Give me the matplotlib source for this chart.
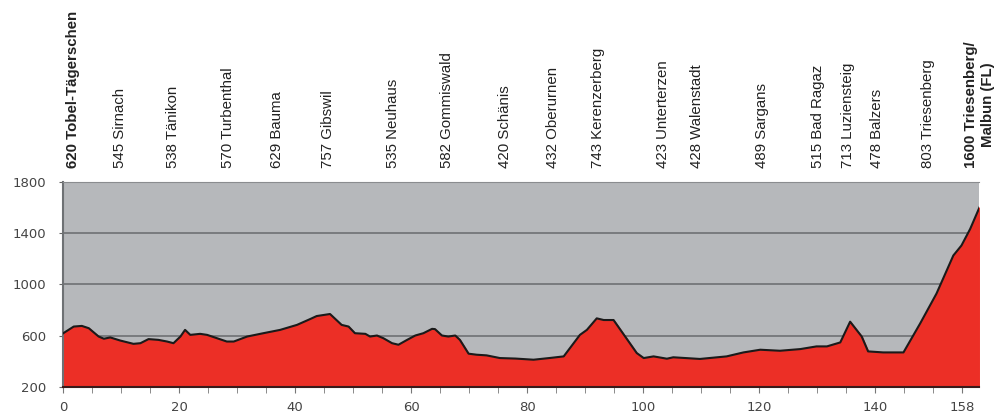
import numpy as np
import matplotlib.pyplot as plt
import matplotlib.transforms as mtransforms

# profile: distance (km) and elevation (m)
km = [0, 1.8, 3.2, 4.4, 6.1, 7.0, 8.1, 9.8, 12.1, 13.3, 14.7, 16.4, 17.9, 19.0,
      20.2, 21.0, 21.9, 23.6, 24.8, 26.5, 28.2, 29.4, 31.7, 34.5, 37.4, 40.3,
      42.6, 43.7, 46.0, 48.0, 49.2, 50.3, 52.1, 52.9, 54.1, 55.2, 56.7, 57.8,
      59.3, 60.7, 62.1, 63.6, 64.1, 65.3, 66.4, 67.6, 68.4, 69.9, 71.3, 73.0,
      75.3, 78.0, 81.1, 84.0, 86.3, 89.1, 90.3, 92.0, 93.2, 94.9, 98.9, 100.1,
      101.8, 104.1, 105.2, 109.8, 114.4, 117.3, 120.2, 123.6, 127.1, 129.9,
      131.7, 134.0, 135.7, 137.7, 138.8, 141.4, 144.9, 147.8, 150.6, 153.5,
      154.9, 156.4, 158.0]
elev = [618, 670, 675, 657, 592, 575, 585, 561, 535, 540, 572, 566, 553, 540,
        592, 644, 605, 613, 605, 579, 553, 553, 592, 618, 644, 683,
        729, 752, 768, 683, 670, 618, 613, 592, 600, 579, 540, 528,
        566, 600, 618, 652, 650, 600, 592, 600, 566, 458, 450, 445,
        424, 420, 411, 425, 437, 605, 644, 734, 721, 721, 463, 424,
        437, 419, 430, 417, 437, 468, 489, 481, 494, 515,
        515, 546, 708, 592, 476, 468, 468, 696, 928, 1225,
        1303, 1432, 1600]

# places along the route
place_km = [1.7, 9.8, 19.0, 28.4, 36.9, 45.7, 56.9, 66.2, 76.2, 84.5, 92.2,
            103.4, 109.3, 120.5, 130.2, 135.3, 140.3, 149.1, 158.0]
place_names = ['620 Tobel-Tägerschen', '545 Sirnach', '538 Tänikon',
               '570 Turbenthal', '629 Bauma', '757 Gibswil', '535 Neuhaus',
               '582 Gommiswald', '420 Schänis', '432 Oberurnen',
               '743 Kerenzerberg', '423 Unterterzen', '428 Walenstadt',
               '489 Sargans', '515 Bad Ragaz', '713 Luziensteig', '478 Balzers',
               '803 Triesenberg', '1600 Triesenberg/\nMalbun (FL)']
place_bold = [True] + [False] * 17 + [True]

x_minor = list(range(0, 160, 5))
x_label_pos = [0, 20, 40, 60, 80, 100, 120, 140, 155]
x_label_txt = ['0', '20', '40', '60', '80', '100', '120', '140', '158']
y_ticks = [200, 600, 1000, 1400, 1800]

fig = plt.figure(figsize=(10.03, 4.19), dpi=100)
ax = fig.add_axes([0.0631, 0.077, 0.9134, 0.489])

ax.set_facecolor('#b6b8bb')
ax.fill_between(km, 200, elev, color='#ec2f26', zorder=2)
ax.plot(km, elev, color='#1a1a1a', lw=1.5, zorder=3)

ax.set_xlim(0, 158)
ax.set_ylim(200, 1800)

ax.set_xticks(x_label_pos)
ax.set_xticklabels(x_label_txt)
ax.set_xticks(x_minor, minor=True)
ax.tick_params(axis='x', which='both', length=4, color='#777777',
               direction='out')
ax.tick_params(axis='x', which='major', pad=6, labelsize=9.5,
               labelcolor='#444444')
ax.set_yticks(y_ticks)
ax.tick_params(axis='y', length=3, color='#666666', labelsize=9.5,
               labelcolor='#444444', pad=9)

for y in [1400, 1000, 600]:
    ax.axhline(y, color='#6e7174', lw=1.2, zorder=1)

ax.spines['right'].set_visible(False)
ax.spines['top'].set_color('#8a8c8f')
ax.spines['left'].set_color('#6e7174')
ax.spines['left'].set_linewidth(1.5)
ax.spines['bottom'].set_color('#3a1a1a')
ax.spines['bottom'].set_linewidth(1.5)

trans = mtransforms.blended_transform_factory(ax.transData, ax.transAxes)
for xk, name, bold in zip(place_km, place_names, place_bold):
    ax.text(xk, 1.068, name, transform=trans, rotation=90, ha='center',
            va='bottom', fontsize=10.8, family='Liberation Sans',
            fontweight='bold' if bold else 'normal', color='#222222',
            multialignment='center', clip_on=False)

fig.savefig('out.png', dpi=100)
